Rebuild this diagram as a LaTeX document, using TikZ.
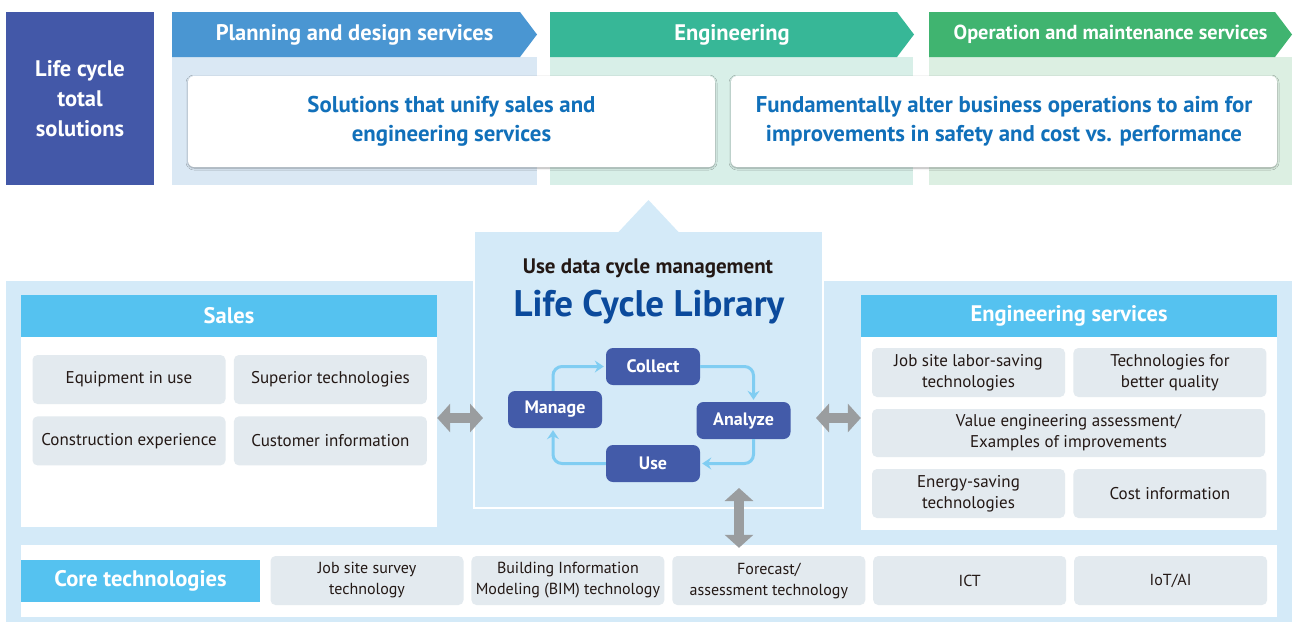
\documentclass[tikz,border=0pt]{standalone}
\usepackage{fontspec}
\setmainfont{PT Sans}
\usepackage{tikz}
\usetikzlibrary{positioning,arrows.meta,shadows.blur}

\definecolor{lcblue}{HTML}{4358A8}
\definecolor{planblue}{HTML}{4A96D2}
\definecolor{engteal}{HTML}{37B797}
\definecolor{opgreen}{HTML}{40B470}
\definecolor{planpale}{HTML}{DAE8F4}
\definecolor{engpale}{HTML}{D8EFE8}
\definecolor{oppale}{HTML}{DCEFE2}
\definecolor{cardtext}{HTML}{1170BA}
\definecolor{skypale}{HTML}{D4EAF8}
\definecolor{skyhead}{HTML}{55C2F0}
\definecolor{itemgray}{HTML}{E3EAEF}
\definecolor{arrowgray}{HTML}{9A9D9F}
\definecolor{cycblue}{HTML}{435BA9}
\definecolor{cycline}{HTML}{80CDF2}
\definecolor{darktext}{HTML}{231815}
\definecolor{libtitle}{HTML}{0B4A9C}

\newcommand{\fsz}[2]{\fontsize{#1}{#2}\selectfont}

\begin{document}
\begin{tikzpicture}[x=1pt, y=-1pt,
    headtext/.style={text=white, font=\fsz{22.5}{26}\bfseries},
    card/.style={fill=white, rounded corners=6pt, minimum height=91pt, align=center, text=cardtext, font=\fsz{22.8}{29}\bfseries,
        blur shadow={shadow xshift=0pt, shadow yshift=-1pt, shadow blur steps=6, shadow opacity=35}},
    boxhead/.style={fill=skyhead, text=white, minimum height=42pt, inner sep=0pt, font=\fsz{22.5}{26}\bfseries},
    item/.style={fill=itemgray, rounded corners=5pt, minimum width=193pt, minimum height=49pt, inner sep=0pt, align=center, text=darktext, font=\fsz{17}{21}},
    coreitem/.style={item, font=\fsz{16}{21}},
    cyc/.style={fill=cycblue, rounded corners=7pt, minimum width=94pt, minimum height=37pt, text=white, font=\fsz{18}{21}\bfseries},
    cycarrow/.style={draw=cycline, line width=3pt, rounded corners=9pt, -{Stealth[length=9pt,width=12pt,inset=3pt]}, shorten >=2pt},
    fatarrow/.style={draw=arrowgray, line width=10pt, {Triangle[width=28pt,length=13pt]}-{Triangle[width=28pt,length=13pt]}}]
\useasboundingbox (0,0) rectangle (1295,624);

% stages
\node[fill=lcblue, minimum width=148pt, minimum height=173pt, align=center, headtext, font=\fsz{22.5}{30}\bfseries] (lcts) at (80,98.5) {Life cycle\\total\\solutions};

\fill[planpale] (172,57) rectangle (537,185);
\fill[engpale] (550,57) rectangle (913,185);
\fill[oppale] (929,57) rectangle (1292,185);
\fill[planblue] (172,12) -- (520,12) -- (537,34.5) -- (520,57) -- (172,57) -- cycle;
\fill[engteal] (550,12) -- (897,12) -- (914,34.5) -- (897,57) -- (550,57) -- cycle;
\fill[opgreen] (929,12) -- (1275,12) -- (1292,34.5) -- (1275,57) -- (929,57) -- cycle;
\node[headtext] (plan) at (354.5,34.5) {Planning and design services};
\node[headtext] (eng) at (732,34.5) {Engineering};
\node[headtext, font=\fsz{20.3}{26}\bfseries] (op) at (1110.5,34.5) {Operation and maintenance services};

\node[card, minimum width=527pt] (unify) at (451.5,121.5) {Solutions that unify sales and\\engineering services};
\node[card, minimum width=546pt] (alter) at (1004,121.5) {Fundamentally alter business operations to aim for\\improvements in safety and cost vs. performance};

% library in the middle
\fill[skypale] (6,281) rectangle (1292,622);
\node[fill=skypale, draw=white, line width=2pt, minimum width=349pt, minimum height=277pt] (lib) at (648.5,369.5) {};
\fill[skypale] ([xshift=-30pt,yshift=-2pt]lib.north) -- ([yshift=30pt]lib.north) -- ([xshift=30pt,yshift=-2pt]lib.north) -- cycle;
\node[text=darktext, font=\fsz{21}{24}\bfseries] (udcm) at (648,268) {Use data cycle management};
\node[text=libtitle, font=\fsz{37}{44}\bfseries] (lcl) at (649,307) {Life Cycle Library};

\node[cyc] (collect) at (653,366.5) {Collect};
\node[cyc] (manage) at (555,409.5) {Manage};
\node[cyc] (analyze) at (743.5,420.5) {Analyze};
\node[cyc] (use) at (653,463.5) {Use};
\draw[cycarrow] ([xshift=-2pt]manage.north) |- (collect.west);
\draw[cycarrow] (collect.east) -| ([xshift=10pt]analyze.north);
\draw[cycarrow] ([xshift=10pt]analyze.south) |- (use.east);
\draw[cycarrow] (use.west) -| ([xshift=-2pt]manage.south);

% sales
\node[fill=white, minimum width=416pt, minimum height=232pt, inner sep=0pt] (sales) at (229,411) {};
\node[boxhead, minimum width=416pt, anchor=north] (saleshead) at (sales.north) {Sales};
\node[item] (equip) at (129,379.5) {Equipment in use};
\node[item, right=8pt of equip] (superior) {Superior technologies};
\node[item, below=12pt of equip] (constr) {Construction experience};
\node[item, right=8pt of constr] (customer) {Customer information};

% engineering services
\node[fill=white, minimum width=416pt, minimum height=235pt, inner sep=0pt] (engserv) at (1069,412.5) {};
\node[boxhead, minimum width=416pt, anchor=north] (engservhead) at (engserv.north) {Engineering services};
\node[item] (labor) at (968.5,372.5) {Job site labor-saving\\technologies};
\node[item, right=8pt of labor] (quality) {Technologies for\\better quality};
\node[item, minimum width=393pt, minimum height=48pt] (value) at (1068.5,433) {Value engineering assessment/\\Examples of improvements};
\node[item] (energy) at (968.5,493.5) {Energy-saving\\technologies};
\node[item, right=8pt of energy] (cost) {Cost information};

% core technologies
\node[fill=white, minimum width=1256pt, minimum height=72pt, inner sep=0pt] (core) at (649,581) {};
\node[boxhead, minimum width=239pt, anchor=west] (corehead) at (core.west) {Core technologies};
\node[coreitem] (survey) at (367,580.5) {Job site survey\\technology};
\node[coreitem, right=7.5pt of survey] (bim) {Building Information\\Modeling (BIM) technology};
\node[coreitem, right=7.5pt of bim] (forecast) {Forecast/\\assessment technology};
\node[coreitem, right=7.5pt of forecast] (ict) {ICT};
\node[coreitem, right=7.5pt of ict] (iot) {IoT/AI};

% links to the library
\coordinate (salesarr) at ([yshift=-7pt]sales.east);
\coordinate (engarr) at ([yshift=-5.5pt]engserv.west);
\draw[fatarrow, shorten >=-10pt] (salesarr) -- (salesarr -| lib.west);
\draw[fatarrow, shorten <=-8pt] (engarr -| lib.east) -- (engarr);
\draw[fatarrow] ([xshift=90.5pt,yshift=21pt]lib.south) -- ([xshift=90pt,yshift=-3pt]core.north);
\end{tikzpicture}
\end{document}
